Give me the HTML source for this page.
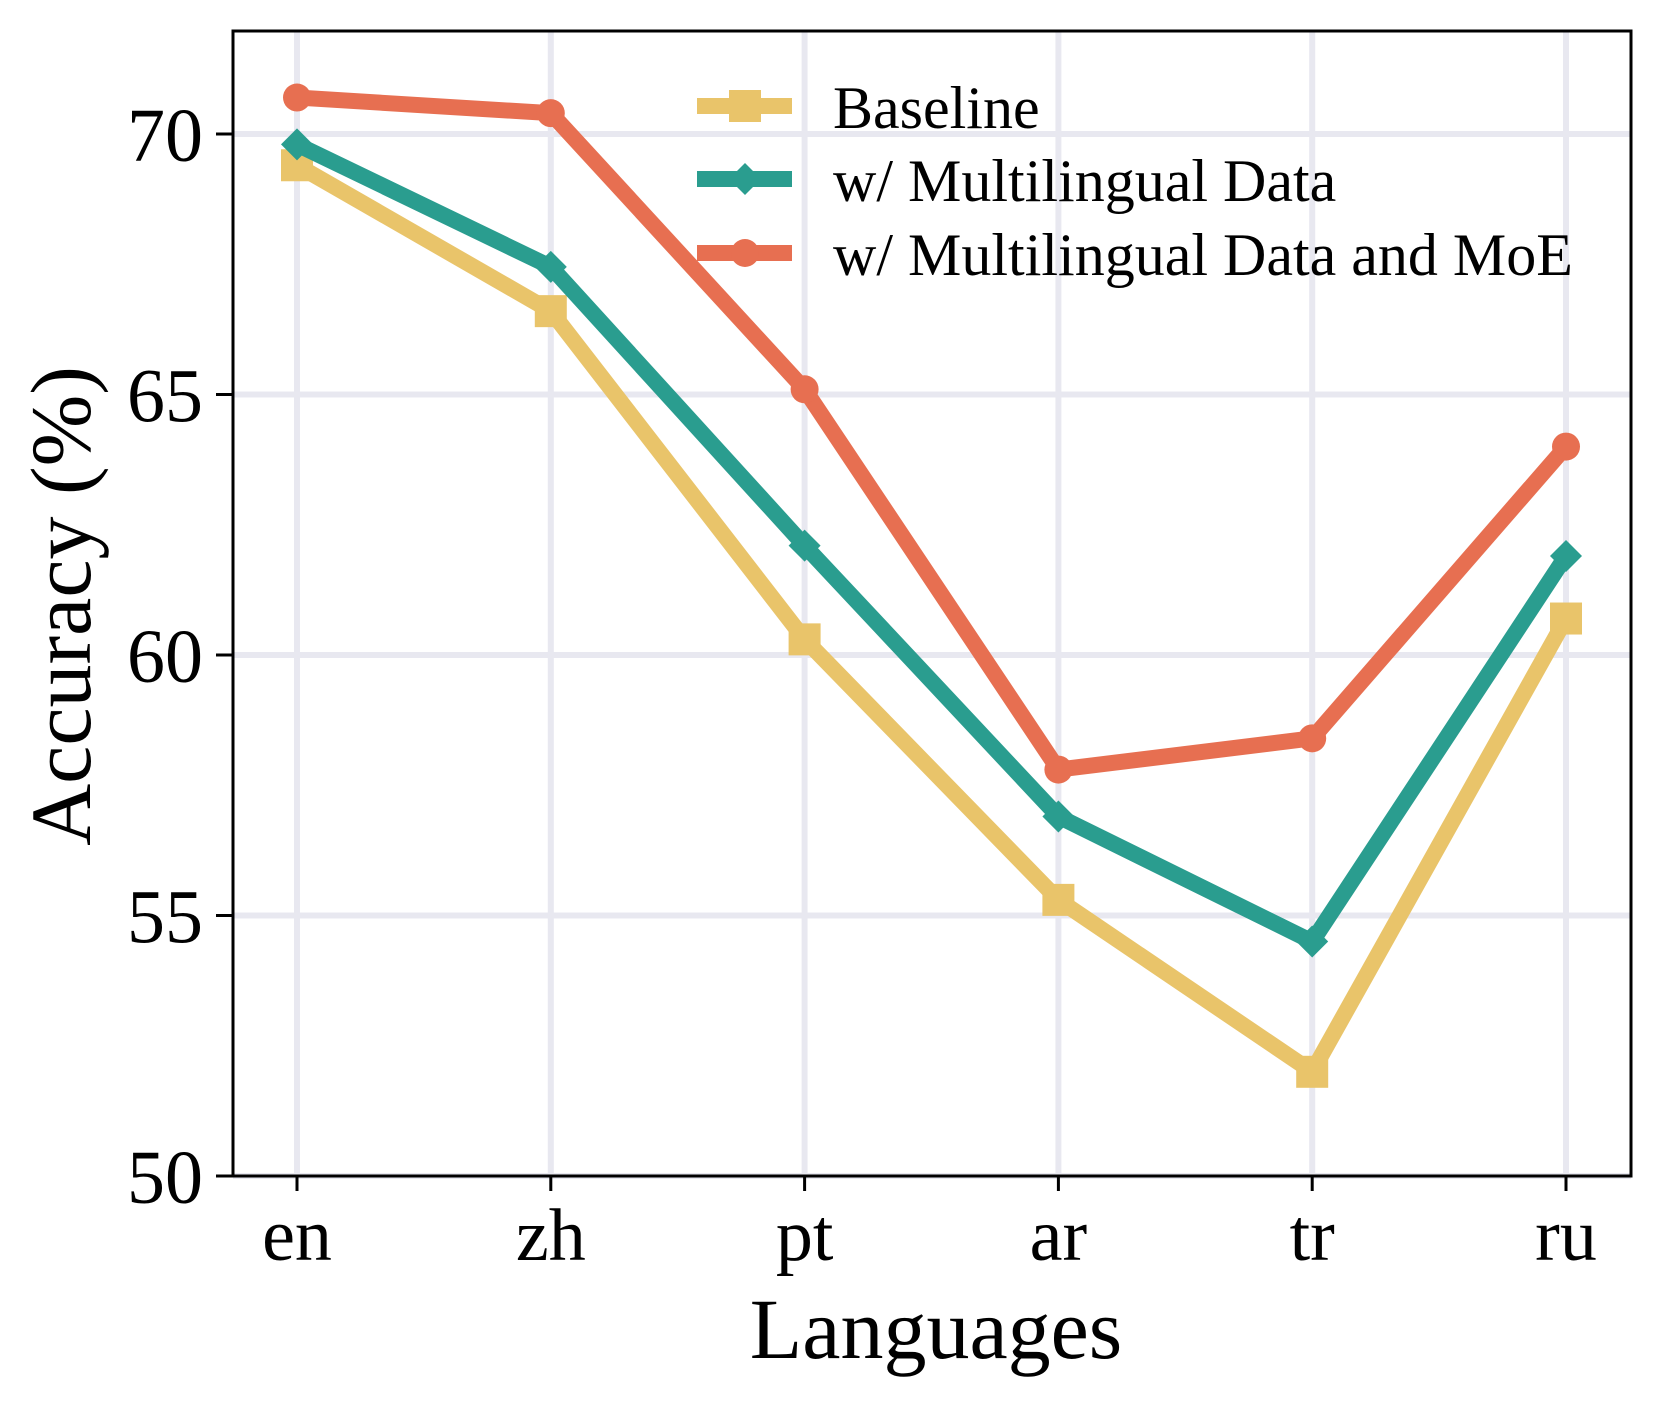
<!DOCTYPE html>
<html><head><meta charset="utf-8"><style>
html,body{margin:0;padding:0;background:#fff}
svg text{font-family:"Liberation Serif",serif;fill:#000}
</style></head><body>
<svg id="chart" width="1660" height="1403" viewBox="0 0 1660 1403" xmlns="http://www.w3.org/2000/svg">
<g id="grid"></g>
<g id="series"></g>
<rect x="233" y="31" width="1398" height="1145" fill="none" stroke="#000" stroke-width="3"/>
<g id="ticks"></g>
<text x="936" y="1358" font-size="86" text-anchor="middle">Languages</text>
<text transform="translate(90,606) rotate(-90)" font-size="86" text-anchor="middle">Accuracy (%)</text>
<g id="legend"></g>
</svg>
<script>
const categories = ["en","zh","pt","ar","tr","ru"];
const baseline = [69.4, 66.6, 60.3, 55.3, 52.0, 60.7];
const multilingual = [69.8, 67.45, 62.1, 56.9, 54.5, 61.9];
const multilingualMoe = [70.7, 70.4, 65.1, 57.8, 58.4, 64.0];
const yTicks = [50, 55, 60, 65, 70];
const seriesNames = ["Baseline","w/ Multilingual Data","w/ Multilingual Data and MoE"];

const NS = "http://www.w3.org/2000/svg";
const L=233,R=1631,T=31,B=1176;
const x0=297, xStep=253.8;
function xs(i){return x0+i*xStep;}
function ys(v){return B-(v-50)*(1176-134)/20;}
function mk(tag,attrs,parent){const e=document.createElementNS(NS,tag);for(const k in attrs)e.setAttribute(k,attrs[k]);parent.appendChild(e);return e;}
const grid=document.getElementById('grid'),ticks=document.getElementById('ticks'),ser=document.getElementById('series'),leg=document.getElementById('legend');
const gc="#e8e8f0";
categories.forEach((c,i)=>{
  const g=mk('line',{x1:xs(i),x2:xs(i),y1:T,y2:B,stroke:gc,'stroke-width':6},grid);
  
  
  const t=mk('line',{x1:xs(i),x2:xs(i),y1:B,y2:B+15,stroke:'#000','stroke-width':3},ticks);
  
  
  const tx=mk('text',{x:xs(i),y:1260,'font-size':74,'text-anchor':'middle'},ticks);
  tx.textContent=c;
  
  
});
yTicks.forEach(v=>{
  const g=mk('line',{x1:L,x2:R,y1:ys(v),y2:ys(v),stroke:gc,'stroke-width':6},grid);
  
  
  const t=mk('line',{x1:L-17,x2:L,y1:ys(v),y2:ys(v),stroke:'#000','stroke-width':3},ticks);
  
  
  const tx=mk('text',{x:203,y:ys(v)+27,'font-size':76,'text-anchor':'end'},ticks);
  tx.textContent=v;
  
  
});
function marker(type,cx,cy,color,parent){
  let m;
  if(type==='square') m=mk('rect',{x:cx-16,y:cy-16,width:32,height:32,fill:color},parent);
  else if(type==='diamond') m=mk('polygon',{points:`${cx},${cy-16} ${cx+16},${cy} ${cx},${cy+16} ${cx-16},${cy}`,fill:color},parent);
  else m=mk('circle',{cx:cx,cy:cy,r:14,fill:color},parent);
  return m;
}
const defs=[[baseline,'#e9c46a','square'],[multilingual,'#2a9d8f','diamond'],[multilingualMoe,'#e76f51','circle']];
defs.forEach(([vals,color,mt],si)=>{
  const pts=vals.map((v,i)=>xs(i)+','+ys(v)).join(' ');
  const pl=mk('polyline',{points:pts,fill:'none',stroke:color,'stroke-width':16,'stroke-linejoin':'round'},ser);
  
  
  vals.forEach((v,i)=>{
    const m=marker(mt,xs(i),ys(v),color,ser);
    
    
  });
  const ly=[106,179,253][si];
  const ll=mk('line',{x1:697,x2:792,y1:ly,y2:ly,stroke:color,'stroke-width':16},leg);
  
  
  const lm=marker(mt,745,ly,color,leg);
  
  
  const lt=mk('text',{x:833,y:ly+22,'font-size':60},leg);
  lt.textContent=seriesNames[si];
  
  
});
</script>
</body></html>
